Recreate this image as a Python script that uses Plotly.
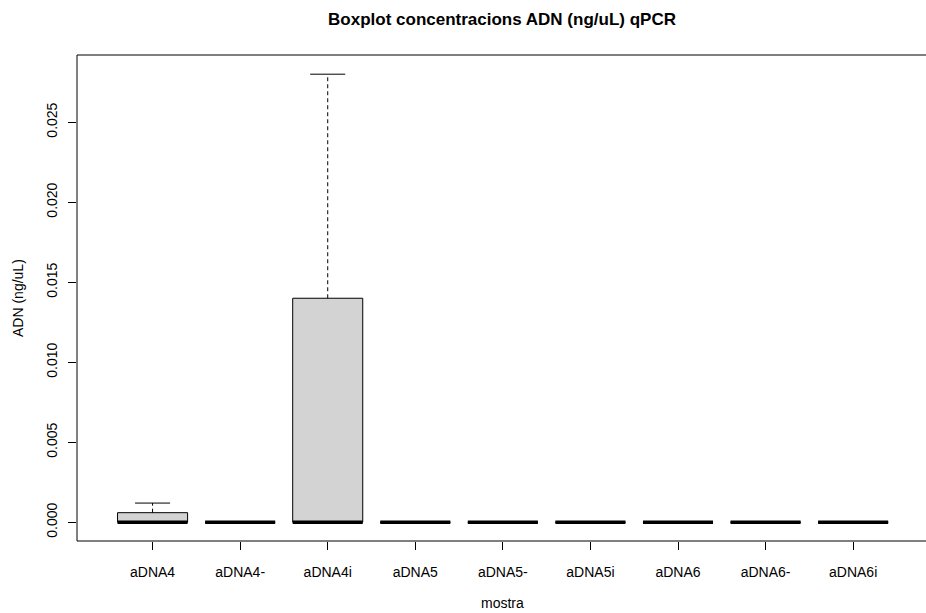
import math
import plotly.graph_objects as go

# qPCR DNA concentrations (ng/uL), three replicates per sample
samples = ["aDNA4", "aDNA4-", "aDNA4i", "aDNA5", "aDNA5-", "aDNA5i", "aDNA6", "aDNA6-", "aDNA6i"]
aDNA4 = [0.0, 0.0, 0.0012]
aDNA4_neg = [0.0, 0.0, 0.0]
aDNA4i = [0.0, 0.0, 0.028]
aDNA5 = [0.0, 0.0, 0.0]
aDNA5_neg = [0.0, 0.0, 0.0]
aDNA5i = [0.0, 0.0, 0.0]
aDNA6 = [0.0, 0.0, 0.0]
aDNA6_neg = [0.0, 0.0, 0.0]
aDNA6i = [0.0, 0.0, 0.0]
concentrations = [aDNA4, aDNA4_neg, aDNA4i, aDNA5, aDNA5_neg, aDNA5i, aDNA6, aDNA6_neg, aDNA6i]

y_ticks = [0.0, 0.005, 0.010, 0.015, 0.020, 0.025]
y_tick_text = ["0.000", "0.005", "0.010", "0.015", "0.020", "0.025"]


def fivenum(values):
    """Tukey five-number summary (same hinges as R's boxplot)."""
    x = sorted(values)
    n = len(x)
    n4 = math.floor((n + 3) / 2) / 2
    depths = [1, n4, (n + 1) / 2, n + 1 - n4, n]
    return [0.5 * (x[math.floor(d - 1)] + x[math.ceil(d - 1)]) for d in depths]


def box_stats(values):
    _, q1, med, q3, _ = fivenum(values)
    iqr = q3 - q1
    upper = max(v for v in values if v <= q3 + 1.5 * iqr)
    lower = min(v for v in values if v >= q1 - 1.5 * iqr)
    return lower, q1, med, q3, upper


FONT = "Liberation Sans, Arial, sans-serif"
half_box = 0.4
half_staple = 0.2

fig = go.Figure()
for i, vals in enumerate(concentrations):
    x = i + 1
    lo, q1, med, q3, hi = box_stats(vals)
    # box body
    fig.add_trace(go.Scatter(
        x=[x - half_box, x + half_box, x + half_box, x - half_box, x - half_box],
        y=[q1, q1, q3, q3, q1],
        mode="lines", fill="toself", fillcolor="#D3D3D3",
        line=dict(color="black", width=1),
        hoverinfo="skip", showlegend=False))
    # dashed whiskers
    fig.add_trace(go.Scatter(
        x=[x, x, None, x, x], y=[q3, hi, None, q1, lo],
        mode="lines", line=dict(color="black", width=1, dash="4px,3px"),
        hoverinfo="skip", showlegend=False))
    # staples
    fig.add_trace(go.Scatter(
        x=[x - half_staple, x + half_staple, None, x - half_staple, x + half_staple],
        y=[hi, hi, None, lo, lo],
        mode="lines", line=dict(color="black", width=1),
        hoverinfo="skip", showlegend=False))
    # median
    fig.add_trace(go.Scatter(
        x=[x - half_box, x + half_box], y=[med, med],
        mode="lines", line=dict(color="black", width=3.5),
        hoverinfo="skip", showlegend=False))

# plot frame: left, bottom and top edges
frame = dict(type="line", xref="paper", yref="paper",
             line=dict(color="black", width=1), layer="above")
shapes = [
    dict(frame, x0=0, x1=0, y0=0, y1=1),
    dict(frame, x0=0, x1=1, y0=0, y1=0),
    dict(frame, x0=0, x1=1, y0=1, y1=1),
]

fig.update_layout(
    width=926, height=613,
    margin=dict(l=77, r=0, t=55, b=72, pad=0),
    paper_bgcolor="white", plot_bgcolor="white",
    font=dict(family=FONT, size=14, color="black"),
    title=dict(text="<b>Boxplot concentracions ADN (ng/uL) qPCR</b>",
               x=(502 - 77) / 849, xref="paper", xanchor="center",
               y=1 - 19 / 613, yref="container", yanchor="middle",
               font=dict(family=FONT, size=17, color="black")),
    xaxis=dict(range=[0.137, 9.832], showgrid=False, zeroline=False,
               showline=False, automargin=False,
               ticks="outside", ticklen=8, tickcolor="black",
               tickvals=list(range(1, len(samples) + 1)), ticktext=samples,
               ticklabelstandoff=10),
    yaxis=dict(range=[-0.00117, 0.0292], showgrid=False, zeroline=False,
               showline=False, automargin=False,
               ticks="outside", ticklen=8, tickcolor="black",
               tickvals=y_ticks, ticktext=y_tick_text, tickangle=-90,
               ticklabelstandoff=5),
    shapes=shapes,
    annotations=[
        dict(text="mostra", xref="paper", yref="paper",
             x=(502 - 77) / 849, y=-(603 - 541) / 486,
             xanchor="center", yanchor="middle", showarrow=False,
             font=dict(family=FONT, size=14)),
        dict(text="ADN (ng/uL)", xref="paper", yref="paper",
             x=(18 - 77) / 849, y=0.5, textangle=-90,
             xanchor="center", yanchor="middle", showarrow=False,
             font=dict(family=FONT, size=14)),
    ],
)

fig.write_html("out.html")
